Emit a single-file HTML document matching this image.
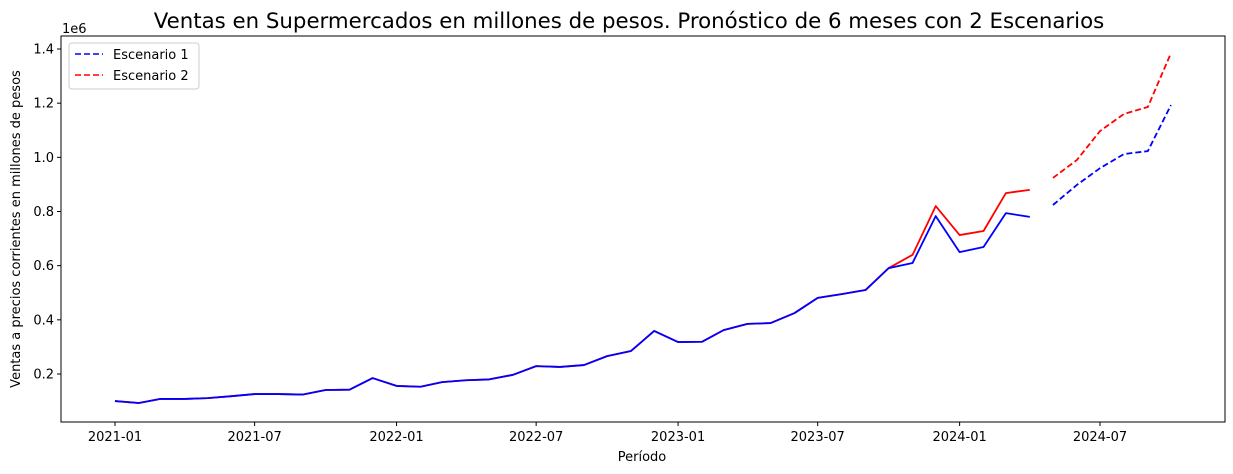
<!DOCTYPE html>
<html><head><meta charset="utf-8"><style>
body{margin:0;background:#fff;}
svg{display:block;font-family:"DejaVu Sans","Liberation Sans",sans-serif;}
</style></head><body>
<svg id="chart" width="1233" height="474" viewBox="0 0 1233 474">
<rect x="0" y="0" width="1233" height="474" fill="#fff"/>
<text x="629" y="28" font-size="21.3" text-anchor="middle">Ventas en Supermercados en millones de pesos. Pronóstico de 6 meses con 2 Escenarios</text>
<text x="62" y="33" font-size="13">1e6</text>
<text x="642" y="461" font-size="13" text-anchor="middle">Período</text>
<text transform="translate(20,229) rotate(-90)" font-size="13" text-anchor="middle">Ventas a precios corrientes en millones de pesos</text>
<g id="axes"></g>
<g id="series"></g>
<rect x="61" y="36" width="1164" height="386" fill="none" stroke="#000" stroke-width="1"/>
<g>
<rect x="69" y="43" width="130" height="46" rx="3" fill="#fff" fill-opacity="0.8" stroke="#ccc"/>
<line x1="75" y1="54" x2="103" y2="54" stroke="blue" stroke-width="1.6" stroke-dasharray="6,3"/>
<text x="113" y="59" font-size="13">Escenario 1</text>
<line x1="75" y1="75" x2="103" y2="75" stroke="red" stroke-width="1.6" stroke-dasharray="6,3"/>
<text x="113" y="80" font-size="13">Escenario 2</text>
</g>
</svg>
<script>
const histMonths = ["2021-01","2021-02","2021-03","2021-04","2021-05","2021-06","2021-07","2021-08","2021-09","2021-10","2021-11","2021-12","2022-01","2022-02","2022-03","2022-04","2022-05","2022-06","2022-07","2022-08","2022-09","2022-10","2022-11","2022-12","2023-01","2023-02","2023-03","2023-04","2023-05","2023-06","2023-07","2023-08","2023-09","2023-10","2023-11","2023-12","2024-01","2024-02","2024-03","2024-04"];
const hist1 = [0.100,0.093,0.108,0.108,0.111,0.118,0.126,0.126,0.124,0.141,0.142,0.185,0.156,0.153,0.170,0.177,0.180,0.197,0.229,0.226,0.233,0.266,0.285,0.359,0.318,0.319,0.362,0.385,0.388,0.425,0.481,0.495,0.510,0.591,0.610,0.783,0.650,0.669,0.794,0.780];
const hist2 = [0.100,0.093,0.108,0.108,0.111,0.118,0.126,0.126,0.124,0.141,0.142,0.185,0.156,0.153,0.170,0.177,0.180,0.197,0.229,0.226,0.233,0.266,0.285,0.359,0.318,0.319,0.362,0.385,0.388,0.425,0.481,0.495,0.510,0.591,0.640,0.820,0.713,0.728,0.868,0.880];
const fcMonths = ["2024-05","2024-06","2024-07","2024-08","2024-09","2024-10"];
const fc1 = [0.824,0.898,0.960,1.012,1.023,1.193];
const fc2 = [0.924,0.990,1.097,1.160,1.186,1.385];
const yTicks = [0.2,0.4,0.6,0.8,1.0,1.2,1.4];
const xTicks = ["2021-01","2021-07","2022-01","2022-07","2023-01","2023-07","2024-01","2024-07"];

const NS="http://www.w3.org/2000/svg";
const t0 = Date.UTC(2021,0,1);
function days(m){const [y,mo]=m.split("-").map(Number);return (Date.UTC(y,mo-1,1)-t0)/86400000;}
function xs(m){return 115 + days(m)*(985/1277);}
function ys(v){return 374 - (v-0.2)*(325/1.2);}
const axes=document.getElementById("axes"), ser=document.getElementById("series");
function mk(tag,attrs,parent){const e=document.createElementNS(NS,tag);for(const k in attrs)e.setAttribute(k,attrs[k]);parent.appendChild(e);return e;}
yTicks.forEach(v=>{
  const y=ys(v);
  const l=mk("line",{x1:57,x2:61,y1:y,y2:y,stroke:"#000"},axes);
  
  
  const t=mk("text",{x:54,y:y+4.5,"font-size":13,"text-anchor":"end"},axes);
  t.textContent=v.toFixed(1);
  
  
});
xTicks.forEach(m=>{
  const x=xs(m);
  const l=mk("line",{x1:x,x2:x,y1:422,y2:426,stroke:"#000"},axes);
  
  
  const t=mk("text",{x:x,y:441,"font-size":13,"text-anchor":"middle"},axes);
  t.textContent=m;
  
  
});
function line(months,vals,color,dash,name){
  const p=mk("polyline",{points:months.map((m,i)=>xs(m)+","+ys(vals[i])).join(" "),fill:"none",stroke:color,"stroke-width":1.8,"stroke-linejoin":"round"},ser);
  if(dash)p.setAttribute("stroke-dasharray","6,3");
  
  
}
line(histMonths,hist2,"red",false,"historic-line-escenario-2");
line(histMonths,hist1,"blue",false,"historic-line-escenario-1");
line(fcMonths,fc1,"blue",true,"forecast-line-escenario-1");
line(fcMonths,fc2,"red",true,"forecast-line-escenario-2");
</script>
</body></html>
